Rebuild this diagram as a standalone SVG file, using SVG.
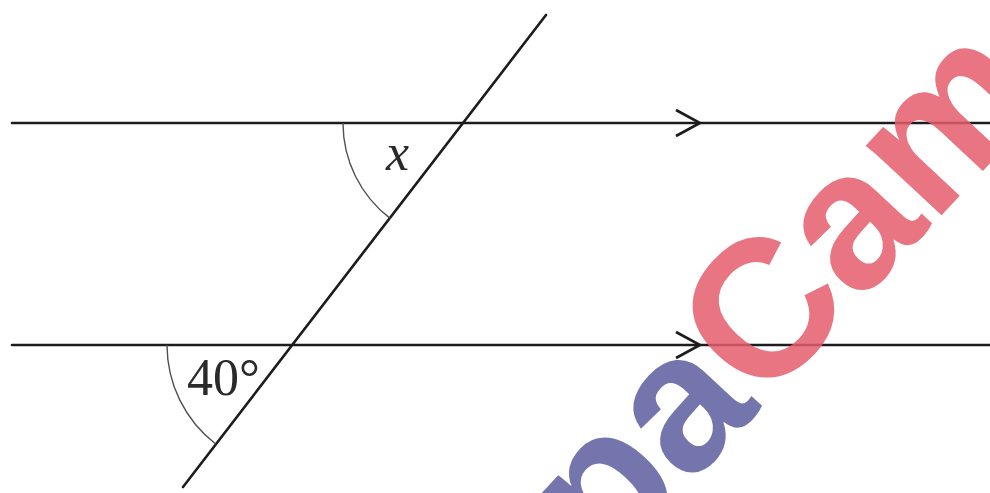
<svg xmlns="http://www.w3.org/2000/svg" width="990" height="493" viewBox="0 0 990 493">
  <defs>
    <style>
      .ln { stroke: #1c1c1c; stroke-width: 2.6; fill: none; stroke-linecap: round; }
      .arc { stroke: #505050; stroke-width: 1.4; fill: none; }
      .lbl { font-family: "Liberation Sans", Arial, sans-serif; font-size: 52px; fill: #2a2a2a; }
      .lbl { font-family: "Liberation Serif", "Times New Roman", serif; }
      .wm { font-family: "Liberation Sans", Arial, sans-serif; font-weight: bold; font-size: 195px; }
    </style>
    <marker id="chev" viewBox="-26 -15 30 30" markerWidth="30" markerHeight="30" refX="0" refY="0" orient="auto" markerUnits="userSpaceOnUse">
      <path d="M-24,-13 L0,0 L-24,13" fill="none" stroke="#1c1c1c" stroke-width="2.6" stroke-linejoin="miter"/>
    </marker>
  </defs>
  <rect width="990" height="493" fill="#ffffff"/>
  <g id="connectors">
    <polyline id="line-top" class="ln" points="12,123 700,123 990,123" marker-mid="url(#chev)"/>
    <polyline id="line-bottom" class="ln" points="12,345 700,345 990,345" marker-mid="url(#chev)"/>
    <line id="transversal" class="ln" x1="546" y1="15" x2="183" y2="487"/>
  </g>
  <g id="angle-x">
    <path class="arc" d="M343,123 A120,120 0 0 0 389.8,218.1"/>
    <text class="lbl" x="386" y="170" font-style="italic">x</text>
  </g>
  <g id="angle-40">
    <path class="arc" d="M167,345 A125,125 0 0 0 215.7,444"/>
    <text class="lbl" x="187" y="395">40°</text>
  </g>
  <g id="watermark" opacity="0.85">
    <text class="wm" transform="translate(607,574) rotate(-47)" x="0" y="0"><tspan fill="#5e5ea0">pa</tspan><tspan fill="#e45e6c">Cam</tspan></text>
  </g>
</svg>
